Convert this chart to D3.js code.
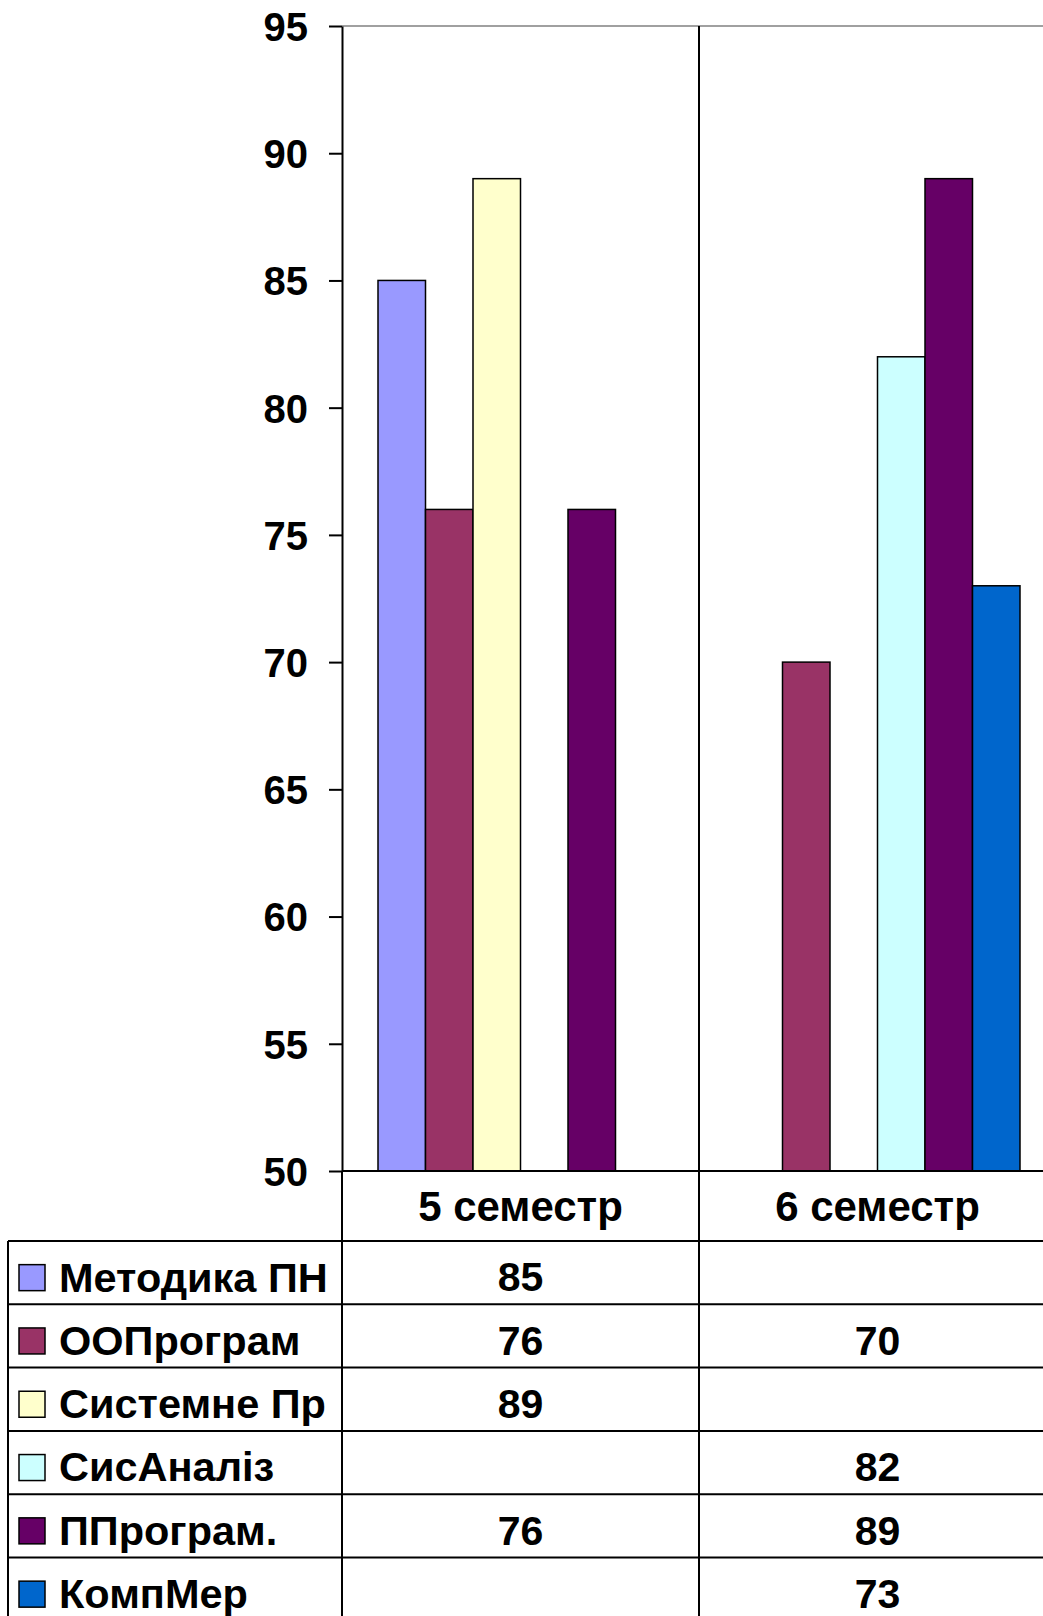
<!DOCTYPE html>
<html lang="uk">
<head>
<meta charset="utf-8">
<title>Семестри</title>
<script src="https://cdn.jsdelivr.net/npm/d3@7"></script>
<style>
  body { margin: 0; background: #fff; }
  text { font-family: "Liberation Sans", Arial, sans-serif; font-weight: bold; fill: #000; }
</style>
</head>
<body>
<script>
// data
var categories = ["5 семестр", "6 семестр"];
var seriesNames = ["Методика ПН", "ООПрограм", "Системне Пр", "СисАналіз", "ППрограм.", "КомпМер"];
var metodyka = [85, null];
var ooProgram = [76, 70];
var systemne = [89, null];
var sysAnaliz = [null, 82];
var pProgram = [76, 89];
var kompMer = [null, 73];
var yTicks = [50, 55, 60, 65, 70, 75, 80, 85, 90, 95];

var seriesValues = [metodyka, ooProgram, systemne, sysAnaliz, pProgram, kompMer];
var colors = ["#9999ff", "#993366", "#ffffcc", "#ccffff", "#660066", "#0066cc"];

var w = 1043, h = 1616;
var plotLeft = 342, plotTop = 26, base = 1171;
var groupW = 357;
var headerH = 70, rowH = 63.3;
var tableLeft = 8;

var svg = d3.select("body").append("svg")
  .attr("width", w).attr("height", h);

var x0 = d3.scaleBand().domain(categories)
  .range([plotLeft, plotLeft + groupW * categories.length]);
var x1 = d3.scaleBand().domain(seriesNames)
  .range([36, groupW - 36]);
var y = d3.scaleLinear().domain([50, 95]).range([base, plotTop]);

// plot top border (grey)
svg.append("line")
  .attr("x1", plotLeft).attr("x2", w).attr("y1", plotTop).attr("y2", plotTop)
  .attr("stroke", "#a0a0a0").attr("stroke-width", 2);

// bars
var groups = svg.selectAll("g.grp")
  .data(categories).enter().append("g")
  .attr("class", "grp")
  .attr("transform", function(d){ return "translate(" + x0(d) + ",0)"; });

groups.selectAll("rect")
  .data(function(c, ci){
    return seriesNames.map(function(s, si){ return {s: s, v: seriesValues[si][ci], i: si}; })
      .filter(function(d){ return d.v != null; });
  })
  .enter().append("rect")
  .attr("x", function(d){ return x1(d.s); })
  .attr("width", x1.bandwidth())
  .attr("y", function(d){ return y(d.v); })
  .attr("height", function(d){ return base - y(d.v); })
  .attr("fill", function(d){ return colors[d.i]; })
  .attr("stroke", "#000").attr("stroke-width", 1.5);

// y axis
var yAxis = svg.append("g")
  .attr("transform", "translate(" + plotLeft + ",0)")
  .call(d3.axisLeft(y).tickValues(yTicks).tickSize(13).tickPadding(21).tickSizeOuter(0));
yAxis.selectAll("path, line").attr("stroke", "#000").attr("stroke-width", 2);
yAxis.selectAll("text").style("font-size", "40px").attr("dy", "0.36em")
  .attr("font-family", null);

// table
var tableBottom = base + headerH + rowH * seriesNames.length;

// baseline and horizontal lines
svg.append("line")
  .attr("x1", plotLeft).attr("x2", w).attr("y1", base).attr("y2", base)
  .attr("stroke", "#000").attr("stroke-width", 2);
seriesNames.forEach(function(s, i){
  var yy = base + headerH + rowH * i;
  svg.append("line")
    .attr("x1", tableLeft).attr("x2", w).attr("y1", yy).attr("y2", yy)
    .attr("stroke", "#000").attr("stroke-width", 2);
});

// vertical lines
svg.append("line")
  .attr("x1", plotLeft).attr("x2", plotLeft).attr("y1", base).attr("y2", tableBottom)
  .attr("stroke", "#000").attr("stroke-width", 2);
svg.append("line")
  .attr("x1", tableLeft).attr("x2", tableLeft).attr("y1", base + headerH).attr("y2", tableBottom)
  .attr("stroke", "#000").attr("stroke-width", 2);
categories.slice(1).forEach(function(c){
  svg.append("line")
    .attr("x1", x0(c)).attr("x2", x0(c)).attr("y1", plotTop).attr("y2", tableBottom)
    .attr("stroke", "#000").attr("stroke-width", 2);
});

// header labels
svg.selectAll("text.cat")
  .data(categories).enter().append("text")
  .attr("class", "cat")
  .attr("x", function(d){ return x0(d) + groupW / 2; })
  .attr("y", base + headerH / 2)
  .attr("dy", "0.36em")
  .attr("text-anchor", "middle")
  .style("font-size", "42px")
  .text(function(d){ return d; });

// legend keys + names
seriesNames.forEach(function(s, i){
  var cy = base + headerH + rowH * i + rowH / 2;
  svg.append("rect")
    .attr("x", 19).attr("y", cy - 8).attr("width", 26).attr("height", 26)
    .attr("fill", colors[i]).attr("stroke", "#000").attr("stroke-width", 1.5);
  svg.append("text")
    .attr("x", 59).attr("y", cy + 4).attr("dy", "0.36em")
    .style("font-size", "41.5px")
    .text(s);
  categories.forEach(function(c, ci){
    var v = seriesValues[i][ci];
    if (v == null) return;
    svg.append("text")
      .attr("x", x0(c) + groupW / 2).attr("y", cy + 4).attr("dy", "0.36em")
      .attr("text-anchor", "middle")
      .style("font-size", "41px")
      .text(v);
  });
});
</script>
</body>
</html>
